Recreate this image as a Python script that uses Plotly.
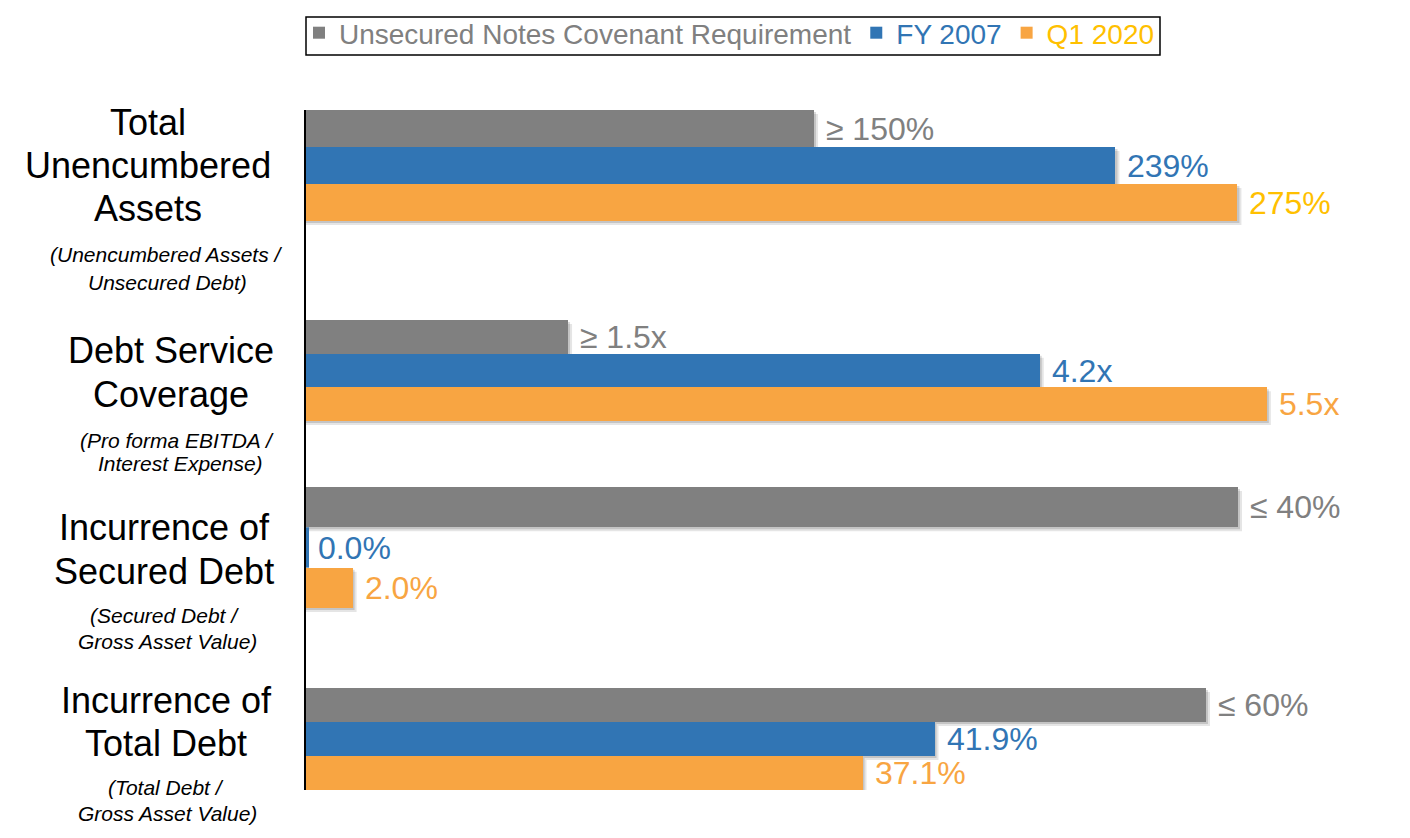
import plotly.graph_objects as go

# ---------------- data ----------------
categories = ["Total Unencumbered Assets", "Debt Service Coverage",
              "Incurrence of Secured Debt", "Incurrence of Total Debt"]
title_lines = [["Total", "Unencumbered", "Assets"],
               ["Debt Service", "Coverage"],
               ["Incurrence of", "Secured Debt"],
               ["Incurrence of", "Total Debt"]]
subtitle_lines = [["(Unencumbered Assets /", "Unsecured Debt)"],
                  ["(Pro forma EBITDA /", "Interest Expense)"],
                  ["(Secured Debt /", "Gross Asset Value)"],
                  ["(Total Debt /", "Gross Asset Value)"]]
series_names = ["Unsecured Notes Covenant Requirement", "FY 2007", "Q1 2020"]
covenant = [150, 1.5, 40, 60]
fy2007 = [239, 4.2, 0.0, 41.9]
q1_2020 = [275, 5.5, 2.0, 37.1]
covenant_labels = ["≥ 150%", "≥ 1.5x", "≤ 40%", "≤ 60%"]
fy2007_labels = ["239%", "4.2x", "0.0%", "41.9%"]
q1_2020_labels = ["275%", "5.5x", "2.0%", "37.1%"]

# ---------------- styling / layout ----------------
W, H = 1410, 838
GRAY, BLUE, ORANGE, GOLD = "#808080", "#3175B4", "#F8A542", "#FFC000"
bar_colors = [GRAY, BLUE, ORANGE]
label_colors = [[GRAY] * 4, [BLUE] * 4, [GOLD, ORANGE, ORANGE, ORANGE]]
legend_text_colors = [GRAY, BLUE, GOLD]
FONT = "Liberation Sans, Arial, sans-serif"

plot_left = 306
bar_px = [(110, 221), (320, 421), (487, 608), (688, 790)]
domain_px = [(110, 320), (320, 487), (487, 688), (688, 790)]
px_per_unit = [3.387, 174.7, 23.3, 15.0]
title_pos = [(148, [122, 165, 208]), (171, [350, 394]), (164, [527, 571]), (166, [700, 743])]
sub_pos = [([166, 167], [255, 282]), ([177, 180], [440, 464]),
           ([164, 167], [615, 641]), ([166, 167], [787, 813])]
SHADOW_PX = 3

series_vals = [covenant, fy2007, q1_2020]
series_labels = [covenant_labels, fy2007_labels, q1_2020_labels]

fig = go.Figure()
layout_axes = {}
shapes = []
for g in range(len(categories)):
    ax = "" if g == 0 else str(g + 1)
    b1, b2 = bar_px[g]
    d1, d2 = domain_px[g]
    unit = b2 - b1
    for s in range(3):
        val = series_vals[s][g]
        fig.add_trace(go.Bar(
            y=[categories[g]], x=[val], orientation="h",
            name=f"<span style='color:{legend_text_colors[s]}'>{series_names[s]}</span>",
            legendgroup=series_names[s], showlegend=(g == 0),
            marker=dict(color=bar_colors[s], line=dict(width=0)),
            text=[series_labels[s][g]], texttemplate=" %{text}",
            textposition="outside", constraintext="none", cliponaxis=False,
            textfont=dict(family=FONT, size=32, color=label_colors[s][g]),
            xaxis="x" + ax, yaxis="y" + ax, hoverinfo="skip",
        ))
        # soft drop shadow behind each bar (derived from the bar value)
        if val > 0:
            for k, alpha in ((SHADOW_PX + 1, 0.10), (SHADOW_PX - 1, 0.14)):
                shapes.append(dict(
                    type="rect", xref="x" + ax, yref="y" + ax, layer="below",
                    x0=0, x1=val + k / px_per_unit[g],
                    y0=-0.5 + s / 3 + k / unit, y1=-0.5 + (s + 1) / 3 + k / unit,
                    fillcolor=f"rgba(0,0,0,{alpha})", line=dict(width=0)))
        else:
            # zero-value bar: thin sliver along the axis as in the reference
            shapes.append(dict(
                type="rect", xref="x" + ax, yref="y" + ax, layer="above",
                x0=0, x1=3 / px_per_unit[g],
                y0=-0.5 + s / 3, y1=-0.5 + (s + 1) / 3,
                fillcolor=bar_colors[s], line=dict(width=0)))
    top_val = -0.5 - (b1 - d1) / unit
    bot_val = 0.5 + (d2 - b2) / unit
    layout_axes["xaxis" + ax] = dict(
        domain=[plot_left / W, 1], range=[0, (W - plot_left) / px_per_unit[g]],
        visible=False, anchor="y" + ax, fixedrange=True)
    layout_axes["yaxis" + ax] = dict(
        domain=[1 - d2 / H, 1 - d1 / H], range=[bot_val, top_val],
        type="category", showticklabels=False, showgrid=False, zeroline=False,
        showline=True, linecolor="#000000", linewidth=1.5, ticks="",
        anchor="x" + ax, fixedrange=True)

# legend frame
shapes.append(dict(type="rect", xref="paper", yref="paper",
                   x0=306 / W, x1=1160 / W, y0=1 - 55 / H, y1=1 - 17 / H,
                   line=dict(color="#000000", width=1.5), fillcolor="rgba(0,0,0,0)"))

annotations = []
for g in range(len(categories)):
    tx, tys = title_pos[g]
    for line, ty in zip(title_lines[g], tys):
        annotations.append(dict(x=tx / W, y=1 - ty / H, xref="paper", yref="paper",
                                text=line, showarrow=False, xanchor="center", yanchor="middle",
                                font=dict(family=FONT, size=36, color="#000000")))
    sxs, sys_ = sub_pos[g]
    for line, sx, sy in zip(subtitle_lines[g], sxs, sys_):
        annotations.append(dict(x=sx / W, y=1 - sy / H, xref="paper", yref="paper",
                                text=f"<i>{line}</i>", showarrow=False, xanchor="center",
                                yanchor="middle",
                                font=dict(family=FONT, size=21, color="#000000")))

fig.update_layout(
    width=W, height=H, margin=dict(l=0, r=0, t=0, b=0),
    paper_bgcolor="white", plot_bgcolor="white",
    barmode="group", bargap=0, bargroupgap=0,
    showlegend=True,
    legend=dict(orientation="h", x=299 / W, y=1 - 8 / H, xanchor="left", yanchor="top",
                borderwidth=0, bgcolor="rgba(0,0,0,0)",
                font=dict(family=FONT, size=28, color=GRAY), itemwidth=30,
                traceorder="normal", itemclick=False, itemdoubleclick=False),
    annotations=annotations,
    shapes=shapes,
    **layout_axes,
)

fig.write_html("out.html")
